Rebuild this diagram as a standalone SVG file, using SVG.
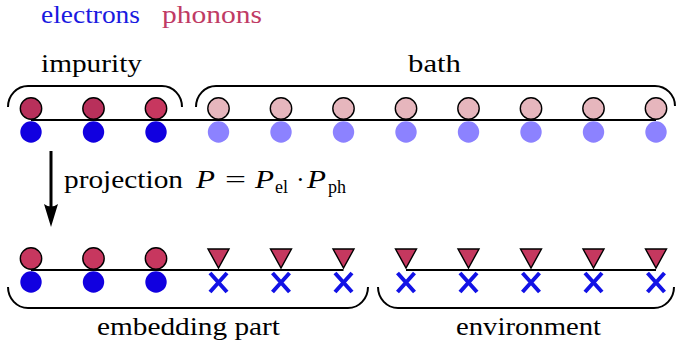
<svg xmlns="http://www.w3.org/2000/svg" width="676" height="347" viewBox="0 0 676 347">
<style>
text{font-family:"Liberation Serif","Times New Roman","DejaVu Serif",serif;font-size:26px;fill:#000}
.it{font-style:italic}
.sub{font-size:18px}
.ph{fill:#b8305b;stroke:#000;stroke-width:1.4}
.ph3{fill:#c7375f;stroke:#000;stroke-width:1.4}
.phb{fill:#e6b6bd;stroke:#000;stroke-width:1.4}
.el{fill:#1100e0}
.elb{fill:#8c82ff}
.tri{fill:#c5385f;stroke:#000;stroke-width:1.4;stroke-linejoin:miter}
.x{stroke:#1212e6;stroke-width:4;fill:none}
.line{stroke:#000;stroke-width:2.2;fill:none}
.brace{stroke:#000;stroke-width:2;fill:none}
</style>

<g id="legend">
<text x="41" y="23" textLength="99" lengthAdjust="spacingAndGlyphs" style="fill:#1a1ae0">electrons</text>
<text x="162" y="23" textLength="100" lengthAdjust="spacingAndGlyphs" style="fill:#c03a64">phonons</text>
</g>

<g id="connectors">
<line class="line" x1="31" y1="120" x2="656" y2="120"/>
<line class="line" x1="31" y1="270" x2="343.5" y2="270"/>
<line class="line" x1="406" y1="270" x2="656" y2="270"/>
<line x1="51" y1="151" x2="51" y2="210" stroke="#000" stroke-width="3"/>
<path d="M51,227 L44,204 Q51,209 58,204 Z" fill="#000"/>
</g>

<g id="impurity-brace">
<path class="brace" d="M8,107 A20,21 0 0 1 28,86 L162,86 A20,21 0 0 1 182,107"/>
<text x="41" y="72" textLength="101" lengthAdjust="spacingAndGlyphs">impurity</text>
</g>
<g id="bath-brace">
<path class="brace" d="M196,107 A20,21 0 0 1 216,86 L655,86 A20,20 0 0 1 675,106"/>
<text x="408" y="72" textLength="53" lengthAdjust="spacingAndGlyphs">bath</text>
</g>

<g id="top-row">
<g id="top-site-1"><circle class="ph" cx="31" cy="108.5" r="10.7"/><circle class="el" cx="31" cy="132" r="10.7"/></g>
<g id="top-site-2"><circle class="ph" cx="93.5" cy="108.5" r="10.7"/><circle class="el" cx="93.5" cy="132" r="10.7"/></g>
<g id="top-site-3"><circle class="ph3" cx="156" cy="108.5" r="10.7"/><circle class="el" cx="156" cy="132" r="10.7"/></g>
<g id="top-site-4"><circle class="phb" cx="218.5" cy="108.5" r="10.7"/><circle class="elb" cx="218.5" cy="132" r="10.7"/></g>
<g id="top-site-5"><circle class="phb" cx="281" cy="108.5" r="10.7"/><circle class="elb" cx="281" cy="132" r="10.7"/></g>
<g id="top-site-6"><circle class="phb" cx="343.5" cy="108.5" r="10.7"/><circle class="elb" cx="343.5" cy="132" r="10.7"/></g>
<g id="top-site-7"><circle class="phb" cx="406" cy="108.5" r="10.7"/><circle class="elb" cx="406" cy="132" r="10.7"/></g>
<g id="top-site-8"><circle class="phb" cx="468.5" cy="108.5" r="10.7"/><circle class="elb" cx="468.5" cy="132" r="10.7"/></g>
<g id="top-site-9"><circle class="phb" cx="531" cy="108.5" r="10.7"/><circle class="elb" cx="531" cy="132" r="10.7"/></g>
<g id="top-site-10"><circle class="phb" cx="593.5" cy="108.5" r="10.7"/><circle class="elb" cx="593.5" cy="132" r="10.7"/></g>
<g id="top-site-11"><circle class="phb" cx="656" cy="108.5" r="10.7"/><circle class="elb" cx="656" cy="132" r="10.7"/></g>
</g>

<g id="projection-label">
<text x="64" y="188" textLength="119" lengthAdjust="spacingAndGlyphs">projection</text>
<text class="it" x="196" y="188" textLength="19" lengthAdjust="spacingAndGlyphs">P</text>
<text x="225" y="188" textLength="21" lengthAdjust="spacingAndGlyphs">=</text>
<text class="it" x="255" y="188" textLength="19" lengthAdjust="spacingAndGlyphs">P</text>
<text class="sub" x="275" y="193">el</text>
<text x="296" y="188">·</text>
<text class="it" x="307" y="188" textLength="19" lengthAdjust="spacingAndGlyphs">P</text>
<text class="sub" x="328" y="193">ph</text>
</g>

<g id="bottom-row">
<g id="bot-site-1"><circle class="ph3" cx="31" cy="258.5" r="10.7"/><circle class="el" cx="31" cy="282" r="10.7"/></g>
<g id="bot-site-2"><circle class="ph3" cx="93.5" cy="258.5" r="10.7"/><circle class="el" cx="93.5" cy="282" r="10.7"/></g>
<g id="bot-site-3"><circle class="ph3" cx="156" cy="258.5" r="10.7"/><circle class="el" cx="156" cy="282" r="10.7"/></g>
<g id="bot-site-4"><path class="tri" d="M208,249 L229,249 L218.5,268 Z"/><path class="x" d="M210,273 L227,292 M227,273 L210,292"/></g>
<g id="bot-site-5"><path class="tri" d="M270.5,249 L291.5,249 L281,268 Z"/><path class="x" d="M272.5,273 L289.5,292 M289.5,273 L272.5,292"/></g>
<g id="bot-site-6"><path class="tri" d="M333,249 L354,249 L343.5,268 Z"/><path class="x" d="M335,273 L352,292 M352,273 L335,292"/></g>
<g id="bot-site-7"><path class="tri" d="M395.5,249 L416.5,249 L406,268 Z"/><path class="x" d="M397.5,273 L414.5,292 M414.5,273 L397.5,292"/></g>
<g id="bot-site-8"><path class="tri" d="M458,249 L479,249 L468.5,268 Z"/><path class="x" d="M460,273 L477,292 M477,273 L460,292"/></g>
<g id="bot-site-9"><path class="tri" d="M520.5,249 L541.5,249 L531,268 Z"/><path class="x" d="M522.5,273 L539.5,292 M539.5,273 L522.5,292" stroke-width="4.8"/></g>
<g id="bot-site-10"><path class="tri" d="M583,249 L604,249 L593.5,268 Z"/><path class="x" d="M585,273 L602,292 M602,273 L585,292"/></g>
<g id="bot-site-11"><path class="tri" d="M645.5,249 L666.5,249 L656,268 Z"/><path class="x" d="M647.5,273 L664.5,292 M664.5,273 L647.5,292"/></g>
</g>

<g id="embedding-brace">
<path class="brace" d="M8,287 A20,21 0 0 0 28,308 L348,308 A20,21 0 0 0 368,287"/>
<text x="97" y="335" textLength="183" lengthAdjust="spacingAndGlyphs">embedding part</text>
</g>
<g id="environment-brace">
<path class="brace" d="M378,287 A20,21 0 0 0 398,308 L654,308 A20,21 0 0 0 674,287"/>
<text x="456" y="335" textLength="145" lengthAdjust="spacingAndGlyphs">environment</text>
</g>
</svg>
